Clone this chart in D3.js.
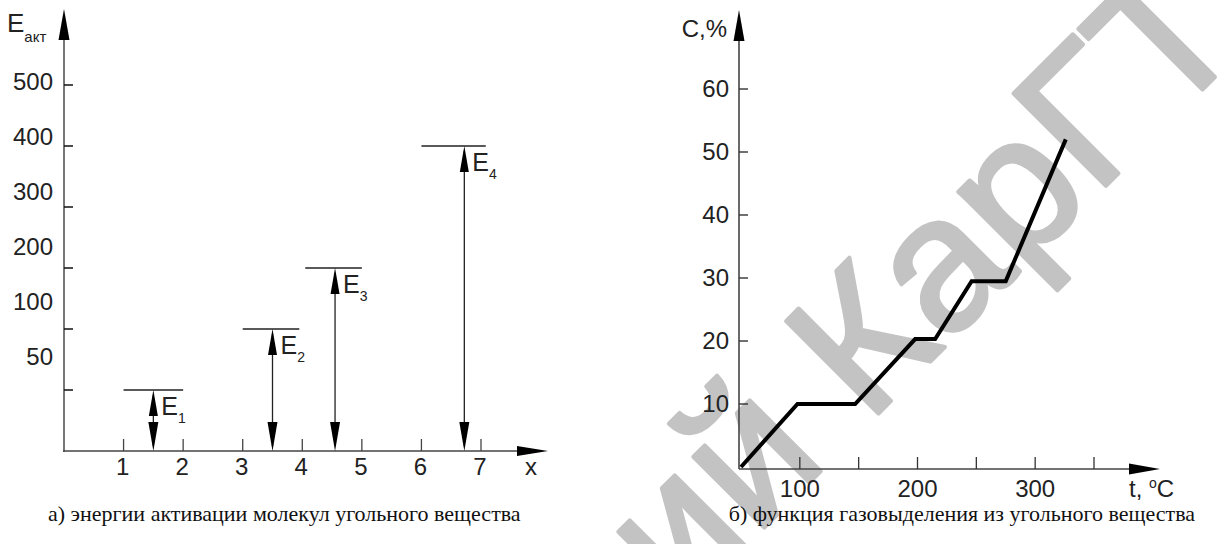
<!DOCTYPE html>
<html><head><meta charset="utf-8">
<script src="https://cdn.jsdelivr.net/npm/d3@7"></script>
<style>
html,body{margin:0;padding:0;background:#fff;}
svg{display:block;}
text{font-family:"Liberation Sans",Arial,sans-serif;fill:#222;}
.cap{font-family:"Liberation Serif","Times New Roman",serif;fill:#111;}
</style>
</head><body>
<svg id="c" width="1223" height="544"></svg>
<script>
// ---------- data: left panel (activation energies) ----------
const levelTickLabels = ["50", "100", "200", "300", "400", "500"];
const levelIndex = [1, 2, 3, 4, 5, 6];
const xTickValues = [1, 2, 3, 4, 5, 6, 7];
const energyNames = ["1", "2", "3", "4"];
const energyLevels = [1, 2, 3, 5];          // level index on the E axis
const energyX = [1.5, 3.5, 4.55, 6.72];      // position along x
const levelFrom = [1, 3, 4.05, 6.0];
const levelTo = [2, 3.95, 5, 7.08];

// ---------- data: right panel (gas release) ----------
const tempC = [50, 98, 147, 198, 215, 246, 275, 326];
const gasPct = [0, 10, 10, 20.3, 20.3, 29.5, 29.5, 52];
const cTicks = [10, 20, 30, 40, 50, 60];
const tTicks = [100, 150, 200, 250, 300, 350];
const tLabels = [100, 200, 300];

const captions = ["а) энергии активации молекул угольного вещества",
                  "б) функция газовыделения из угольного вещества"];

const svg = d3.select("#c");

// watermark
svg.append("text")
  .attr("transform", "translate(680,612) rotate(-45)")
  .style("font-size", "190px").style("fill", "#c3c3c3")
  .style("stroke", "#c3c3c3").style("stroke-width", 4).style("stroke-linejoin", "round")
  .text("ий КарГТУ");

function arrowHead(g, tipX, tipY, dir, len, half) {
  let pts;
  if (dir === "up") pts = [[tipX, tipY], [tipX - half, tipY + len], [tipX + half, tipY + len]];
  else if (dir === "down") pts = [[tipX, tipY], [tipX - half, tipY - len], [tipX + half, tipY - len]];
  else pts = [[tipX, tipY], [tipX - len, tipY - half], [tipX - len, tipY + half]];
  g.append("path").attr("d", d3.line()(pts) + "Z").attr("fill", "#000");
}

// ================= LEFT PANEL =================
const xL = d3.scaleLinear().domain([0, 7]).range([64, 481]);
const yL = d3.scaleLinear().domain([0, 6]).range([451, 85]);
const yLab = d3.scaleLinear().domain([1, 6]).range([357, 82]);
const gL = svg.append("g");

gL.append("line").attr("x1", xL(0)).attr("x2", xL(0)).attr("y1", 38).attr("y2", yL(0) + 1)
  .attr("stroke", "#777").attr("stroke-width", 2);
arrowHead(gL, xL(0), 9, "up", 31, 5.5);
gL.append("line").attr("x1", xL(0) - 1).attr("x2", 520).attr("y1", yL(0)).attr("y2", yL(0))
  .attr("stroke", "#444").attr("stroke-width", 1.6);
arrowHead(gL, 548, yL(0), "right", 31, 5);

gL.selectAll(".yt").data(levelIndex).enter().append("line")
  .attr("x1", xL(0)).attr("x2", xL(0) + 9)
  .attr("y1", d => yL(d)).attr("y2", d => yL(d))
  .attr("stroke", "#111").attr("stroke-width", 1.5);
gL.selectAll(".yl").data(levelIndex).enter().append("text")
  .attr("x", 53).attr("y", d => yLab(d)).attr("dy", "0.35em")
  .attr("text-anchor", "end").style("font-size", "24px")
  .text((d, i) => levelTickLabels[i]);
gL.selectAll(".xt").data(xTickValues).enter().append("line")
  .attr("x1", d => xL(d)).attr("x2", d => xL(d))
  .attr("y1", yL(0)).attr("y2", yL(0) - 12)
  .attr("stroke", "#444").attr("stroke-width", 1.3);
gL.selectAll(".xl").data(xTickValues).enter().append("text")
  .attr("x", d => xL(d) - 1).attr("y", 475)
  .attr("text-anchor", "middle").style("font-size", "24px").text(d => d);
gL.append("text").attr("x", 531).attr("y", 475).attr("text-anchor", "middle")
  .style("font-size", "24px").text("x");
const tE = gL.append("text").attr("x", 7).attr("y", 32).style("font-size", "26px");
tE.append("tspan").text("E");
tE.append("tspan").attr("dy", 10).style("font-size", "15px").text("акт");

energyNames.forEach((n, i) => {
  const ly = yL(energyLevels[i]);
  const ax = xL(energyX[i]);
  gL.append("line").attr("x1", xL(levelFrom[i])).attr("x2", xL(levelTo[i]))
    .attr("y1", ly).attr("y2", ly).attr("stroke", "#222").attr("stroke-width", 1.3);
  gL.append("line").attr("x1", ax).attr("x2", ax).attr("y1", ly + 5).attr("y2", yL(0) - 5)
    .attr("stroke", "#222").attr("stroke-width", 1.3);
  arrowHead(gL, ax, ly, "up", 26, 4.5);
  arrowHead(gL, ax, yL(0), "down", 29, 5);
  const t = gL.append("text").attr("x", ax + 8).attr("y", ly + 25).style("font-size", "25px");
  t.append("tspan").text("E");
  t.append("tspan").attr("dy", 8).style("font-size", "14px").text(n);
});

// ================= RIGHT PANEL =================
const xR = d3.scaleLinear().domain([50, 350]).range([741, 1094]);
const yR = d3.scaleLinear().domain([0, 60]).range([467, 89]);
const gR = svg.append("g");
const axX = 739, axY = 469;

gR.append("line").attr("x1", axX).attr("x2", axX).attr("y1", 40).attr("y2", axY)
  .attr("stroke", "#444").attr("stroke-width", 1.6);
arrowHead(gR, axX, 10, "up", 31, 5.5);
gR.append("line").attr("x1", axX).attr("x2", 1131).attr("y1", axY).attr("y2", axY)
  .attr("stroke", "#444").attr("stroke-width", 1.6);
arrowHead(gR, 1160, axY, "right", 31, 5.5);

gR.selectAll(".yt").data(cTicks).enter().append("line")
  .attr("x1", axX).attr("x2", axX + 9).attr("y1", d => yR(d)).attr("y2", d => yR(d))
  .attr("stroke", "#333").attr("stroke-width", 1.4);
gR.selectAll(".yl").data(cTicks).enter().append("text")
  .attr("x", 729).attr("y", d => yR(d)).attr("dy", "0.35em").attr("text-anchor", "end")
  .style("font-size", "24px").text(d => d);
gR.selectAll(".xt").data(tTicks).enter().append("line")
  .attr("x1", d => xR(d)).attr("x2", d => xR(d)).attr("y1", axY).attr("y2", axY - 12)
  .attr("stroke", "#333").attr("stroke-width", 1.3);
gR.selectAll(".xl").data(tLabels).enter().append("text")
  .attr("x", d => xR(d)).attr("y", 497).attr("text-anchor", "middle")
  .style("font-size", "24px").text(d => d);
const tt = gR.append("text").attr("x", 1129).attr("y", 497).style("font-size", "24px");
tt.append("tspan").text("t, ");
tt.append("tspan").attr("dy", -9).style("font-size", "14px").text("o");
tt.append("tspan").attr("dy", 9).text("C");
gR.append("text").attr("x", 727).attr("y", 37).attr("text-anchor", "end")
  .style("font-size", "24px").text("C,%");

const pts = tempC.map((t, i) => [xR(t), yR(gasPct[i])]);
gR.append("path").attr("d", d3.line()(pts)).attr("fill", "none")
  .attr("stroke", "#000").attr("stroke-width", 4).attr("stroke-linejoin", "miter");

// captions
svg.append("text").attr("class", "cap").attr("x", 48).attr("y", 521)
  .attr("text-anchor", "start").style("font-size", "22px").text(captions[0]);
svg.append("text").attr("class", "cap").attr("x", 1195).attr("y", 521)
  .attr("text-anchor", "end").style("font-size", "22px").text(captions[1]);
</script>
</body></html>
